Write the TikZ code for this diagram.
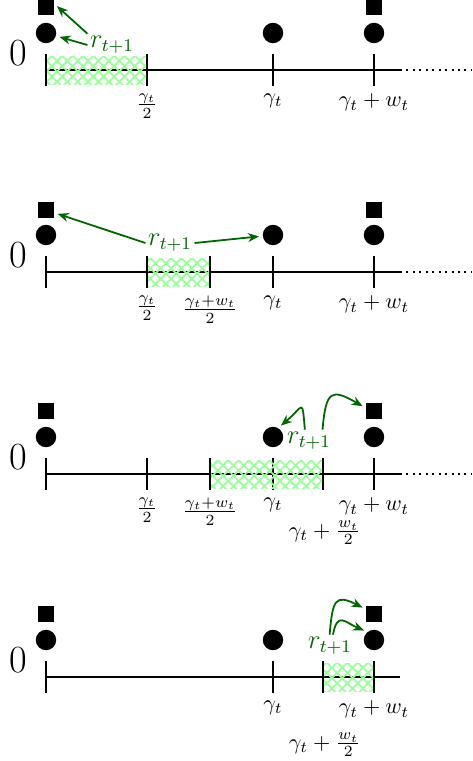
\documentclass[tikz,border=0pt]{standalone}
\usetikzlibrary{arrows.meta,patterns.meta}

\tikzset{
  bullet/.style={circle, fill, inner sep=0pt, minimum size=9.2pt},
  sq/.style={rectangle, fill, inner sep=0pt, minimum size=7.2pt},
  axisline/.style={line width=0.9pt},
  tickmark/.style={line width=1pt},
  hatchbox/.style={pattern={Hatch[angle=45,distance=3.3pt,line width=0.8pt]}, pattern color=green!40},
  zero/.style={font=\fontsize{19}{22}\selectfont},
  rlab/.style={text=green!40!black, inner sep=1pt, font=\large},
  arr/.style={-{Stealth[length=5pt,width=4pt]}, green!40!black, line width=0.8pt, shorten >=1.5pt},
}

\begin{document}
\begin{tikzpicture}[x=0.45pt, y=0.45pt, line join=round]

  \useasboundingbox (0,0) rectangle (472,-761);

  % Panel 1: r_{t+1} in [0, gamma_t/2]
  \begin{scope}[shift={(0,-70)}]
    \draw[axisline] (46,0) -- (400,0);
    \draw[axisline, dotted] (400,0) -- (472,0);
    \foreach \x in {46,147,273,374} {
      \draw[tickmark] (\x,16) -- (\x,-16);
    }
    \fill[hatchbox] (47,-14) rectangle (146,14);

    % Labels
    \node[zero] (a0) at (18,17) {$0$};
    \node[below] (a1) at (147,-16) {$\frac{\gamma_t}{2}$};
    \node[below] (a3) at (273,-16) {$\gamma_t$};
    \node[below] (a5) at (374,-16) {$\gamma_t + w_t$};

    % Points
    \foreach \x/\n in {46/a,273/b,374/c} {
      \node[bullet] (d1\n) at (\x,37) {};
    }
    \foreach \x/\n in {46/a,374/c} {
      \node[sq] (s1\n) at (\x,63) {};
    }

    \node[rlab] (r1) at (112,25) {$r_{t+1}$};
    \draw[arr] (r1.north west) -- (s1a.20);
    \draw[arr] (r1.west) -- (d1a);
  \end{scope}

  % Panel 2: r_{t+1} in [gamma_t/2, (gamma_t+w_t)/2]
  \begin{scope}[shift={(0,-272)}]
    \draw[axisline] (46,0) -- (400,0);
    \draw[axisline, dotted] (400,0) -- (472,0);
    \foreach \x in {46,147,210,273,374} {
      \draw[tickmark] (\x,16) -- (\x,-16);
    }
    \fill[hatchbox] (148,-14) rectangle (209,14);

    % Labels
    \node[zero] (b0) at (18,17) {$0$};
    \node[below] (b1) at (147,-16) {$\frac{\gamma_t}{2}$};
    \node[below] (b2) at (210,-16) {$\frac{\gamma_t+w_t}{2}$};
    \node[below] (b3) at (273,-16) {$\gamma_t$};
    \node[below] (b5) at (374,-16) {$\gamma_t + w_t$};

    % Points
    \foreach \x/\n in {46/a,273/b,374/c} {
      \node[bullet] (d2\n) at (\x,37) {};
    }
    \foreach \x/\n in {46/a,374/c} {
      \node[sq] (s2\n) at (\x,62) {};
    }

    \node[rlab] (r2) at (170,29) {$r_{t+1}$};
    \draw[arr] (r2.west) -- (s2a);
    \draw[arr] (r2.east) -- (d2b);
  \end{scope}

  % Panel 3: r_{t+1} in [(gamma_t+w_t)/2, gamma_t + w_t/2]
  \begin{scope}[shift={(0,-474)}]
    \draw[axisline] (46,0) -- (400,0);
    \draw[axisline, dotted] (400,0) -- (472,0);
    \foreach \x in {46,147,210,273,323,374} {
      \draw[tickmark] (\x,16) -- (\x,-16);
    }
    \fill[hatchbox] (211,-14) rectangle (322,14);

    % Labels
    \node[zero] (c0) at (18,17) {$0$};
    \node[below] (c1) at (147,-16) {$\frac{\gamma_t}{2}$};
    \node[below] (c2) at (210,-16) {$\frac{\gamma_t+w_t}{2}$};
    \node[below] (c3) at (273,-16) {$\gamma_t$};
    \node[below] (c5) at (374,-16) {$\gamma_t + w_t$};
    \node (c4) at (325,-59) {$\gamma_t + \frac{w_t}{2}$};

    % Points
    \foreach \x/\n in {46/a,273/b,374/c} {
      \node[bullet] (d3\n) at (\x,37) {};
    }
    \foreach \x/\n in {46/a,374/c} {
      \node[sq] (s3\n) at (\x,63) {};
    }

    \node[rlab] (r3) at (309,33) {$r_{t+1}$};
    \draw[arr] (r3.110) to[out=95, in=40, looseness=3.2] (d3b.60);
    \draw[arr] (r3.40) to[out=85, in=150, looseness=2.1] (s3c.160);
  \end{scope}

  % Panel 4: r_{t+1} in [gamma_t + w_t/2, gamma_t + w_t]
  \begin{scope}[shift={(0,-677)}]
    \draw[axisline] (46,0) -- (400,0);
    \foreach \x in {46,273,323,374} {
      \draw[tickmark] (\x,16) -- (\x,-16);
    }
    \fill[hatchbox] (324,-14) rectangle (373,14);

    % Labels
    \node[zero] (e0) at (18,17) {$0$};
    \node[below] (e3) at (273,-16) {$\gamma_t$};
    \node[below] (e5) at (374,-16) {$\gamma_t + w_t$};
    \node (e4) at (325,-68) {$\gamma_t + \frac{w_t}{2}$};

    % Points
    \foreach \x/\n in {46/a,273/b,374/c} {
      \node[bullet] (d4\n) at (\x,37) {};
    }
    \foreach \x/\n in {46/a,374/c} {
      \node[sq] (s4\n) at (\x,63) {};
    }

    \node[rlab] (r4) at (330,31) {$r_{t+1}$};
    \draw[arr] (r4.92) to[out=85, in=153, looseness=2] (s4c.150);
    \draw[arr] (r4.75) to[out=80, in=157, looseness=1.8] (d4c.130);
  \end{scope}

\end{tikzpicture}
\end{document}
